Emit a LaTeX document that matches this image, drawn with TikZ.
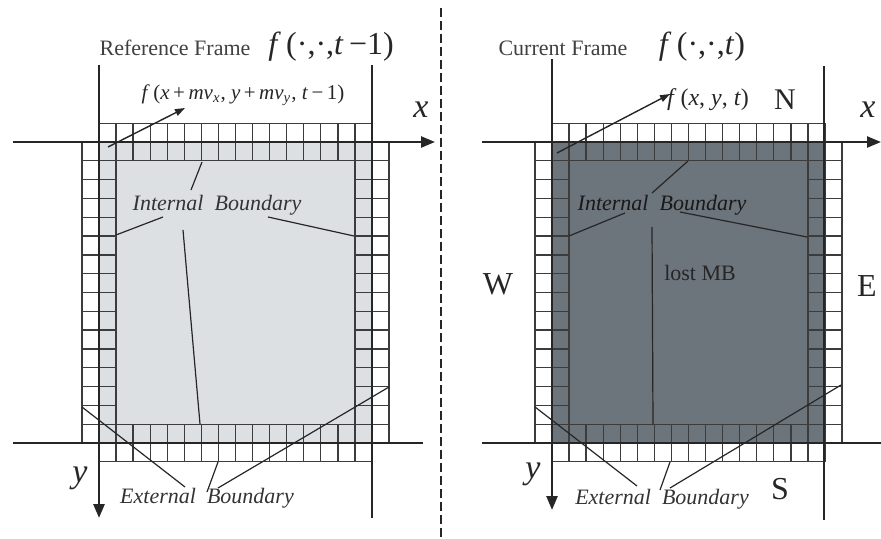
\documentclass[tikz,border=0pt]{standalone}
\usepackage{fontspec}
\setmainfont{Liberation Serif}
\usetikzlibrary{arrows.meta,positioning}
\definecolor{lightfill}{HTML}{DDE0E3}
\definecolor{darkfill}{HTML}{6C747C}
\definecolor{cellgray}{HTML}{3C3C3C}
\definecolor{titlegray}{HTML}{404040}
\definecolor{notegray}{HTML}{333333}

% one 16x16 block of macroblocks with its internal and external boundary cells
\newcommand\mbblock[1]{%
  \fill[#1] (99,142) rectangle (372,443);
  \foreach \k in {0,...,15}{
    \draw[cellline] ({99+\k*17.0625},142) rectangle ++(17.0625,-18.8125);
    \draw[cellline] ({99+\k*17.0625},142) rectangle ++(17.0625,18.8125);
    \draw[cellline] ({99+\k*17.0625},443) rectangle ++(17.0625,-18.8125);
    \draw[cellline] ({99+\k*17.0625},443) rectangle ++(17.0625,18.8125);
    \draw[cellline] (99,{142+\k*18.8125}) rectangle ++(-17.0625,18.8125);
    \draw[cellline] (99,{142+\k*18.8125}) rectangle ++(17.0625,18.8125);
    \draw[cellline] (372,{142+\k*18.8125}) rectangle ++(-17.0625,18.8125);
    \draw[cellline] (372,{142+\k*18.8125}) rectangle ++(17.0625,18.8125);
  }%
}

\begin{document}
\begin{tikzpicture}[x=0.5pt,y=-0.5pt,
  frameline/.style={line width=1.3pt,black!85},
  axisline/.style={line width=1.2pt,black!85},
  cellline/.style={line width=0.65pt,cellgray},
  leader/.style={line width=0.6pt,black!85},
  axistip/.style={-{Triangle[length=7pt,width=5.5pt]}},
  pointer/.style={line width=0.7pt,black!85,-{Triangle[length=5pt,width=3.5pt]}},
  title/.style={font=\fontsize{11}{13}\selectfont,text=titlegray,inner sep=0pt},
  funclabel/.style={font=\fontsize{16}{18}\selectfont,text=black!85,inner sep=0pt},
  smallfunc/.style={font=\fontsize{10.5}{13}\selectfont,text=black!85,inner sep=0pt},
  note/.style={font=\fontsize{11}{13}\selectfont\itshape,text=notegray,inner sep=0pt},
  compass/.style={font=\fontsize{16}{18}\selectfont,text=black!85,inner sep=0pt},
  axislabel/.style={font=\fontsize{17}{19}\selectfont\itshape,text=black!85,inner sep=0pt}]
  \useasboundingbox (0,0) rectangle (881,539);

  % blocks
  \mbblock{lightfill}
  \begin{scope}[shift={(453,0)}]
    \mbblock{darkfill}
  \end{scope}

  % reference frame lines and axes
  \coordinate (refxs) at (13,142);
  \coordinate (refxe) at (435,142);
  \coordinate (refbs) at (13,443);
  \coordinate (refbe) at (423,443);
  \coordinate (refls) at (99,65);
  \coordinate (refle) at (99,518);
  \coordinate (refrs) at (372,65);
  \coordinate (refre) at (372,518);
  \draw[axisline,axistip] (refxs) -- (refxe);
  \draw[axisline] (refbs) -- (refbe);
  \draw[frameline,axistip] (refls) -- (refle);
  \draw[frameline] (refrs) -- (refre);

  % current frame lines and axes
  \coordinate (curxs) at (482,142);
  \coordinate (curxe) at (881,142);
  \coordinate (curbs) at (482,443);
  \coordinate (curbe) at (881,443);
  \coordinate (curls) at (552,59);
  \coordinate (curle) at (552,510);
  \coordinate (currs) at (824,66);
  \coordinate (curre) at (824,520);
  \draw[axisline,axistip] (curxs) -- (curxe);
  \draw[axisline] (curbs) -- (curbe);
  \draw[frameline,axistip] (curls) -- (curle);
  \draw[frameline] (currs) -- (curre);

  % separator
  \coordinate (septop) at (441,8);
  \coordinate (sepbot) at (441,539);
  \draw[line width=1.2pt,black!85,dash pattern=on 4.5pt off 2pt] (septop) -- (sepbot);

  % reference frame labels
  \node[title] (reftitle) at (175,48) {Reference Frame};
  \node[funclabel] (reffunc) at (331,47) {\textit{f}\,(·,·,\textit{t}\,−1)};
  \node[smallfunc] (refmv) at (243,95) {\textit{f}\,(\textit{x}\,+\,\textit{mv}\textsubscript{\textit{x}}, \textit{y}\,+\,\textit{mv}\textsubscript{\textit{y}}, \textit{t}\,−\,1)};
  \node[axislabel] (refx) at (421,110) {x};
  \node[axislabel] (refy) at (80,478) {y};
  \node[note] (refib) at (217,205) {Internal\ \ Boundary};
  \node[note] (refeb) at (207,498) {External\ \ Boundary};

  \coordinate (refmvs) at (108,147);
  \coordinate (refmve) at (185,108);
  \draw[pointer] (refmvs) -- (refmve);

  \coordinate (refibt) at (202,162);
  \coordinate (refibta) at (191,190);
  \coordinate (refibl) at (116,235);
  \coordinate (refibla) at (163,217);
  \coordinate (refibr) at (354,236);
  \coordinate (refibra) at (268,217);
  \coordinate (refibb) at (200,424);
  \coordinate (refibba) at (183,230);
  \draw[leader] (refibta) -- (refibt);
  \draw[leader] (refibla) -- (refibl);
  \draw[leader] (refibra) -- (refibr);
  \draw[leader] (refibba) -- (refibb);

  \coordinate (refebl) at (82,407);
  \coordinate (refebla) at (185,487);
  \coordinate (refebm) at (218,462);
  \coordinate (refebma) at (207,492);
  \coordinate (refebr) at (389,387);
  \coordinate (refebra) at (218,488);
  \draw[leader] (refebla) -- (refebl);
  \draw[leader] (refebma) -- (refebm);
  \draw[leader] (refebra) -- (refebr);

  % current frame labels
  \node[title] (curtitle) at (563,48) {Current Frame};
  \node[funclabel] (curfunc) at (702,47) {\textit{f}\,(·,·,\textit{t})};
  \node[smallfunc,font=\fontsize{12}{14}\selectfont] (curfxy) at (708,100) {\textit{f}\,(\textit{x}, \textit{y}, \textit{t})};
  \node[compass,font=\fontsize{15}{17}\selectfont] (north) at (785,100) {N};
  \node[compass] (west) at (498,284) {W};
  \node[compass] (east) at (867,286) {E};
  \node[compass] (south) at (780,489) {S};
  \node[axislabel] (curx) at (868,110) {x};
  \node[axislabel] (cury) at (533,474) {y};
  \node[font=\fontsize{11}{13}\selectfont,text=black!85,inner sep=0pt] (lostmb) at (700,273) {lost MB};
  \node[note,text=black!90] (curib) at (662,205) {Internal\ \ Boundary};
  \node[note] (cureb) at (662,499) {External\ \ Boundary};

  \coordinate (curfxys) at (557,153);
  \coordinate (curfxye) at (670,94);
  \draw[pointer] (curfxys) -- (curfxye);

  \coordinate (curibt) at (688,161);
  \coordinate (curibta) at (652,193);
  \coordinate (curibl) at (569,236);
  \coordinate (curibla) at (625,213);
  \coordinate (curibr) at (807,237);
  \coordinate (curibra) at (680,212);
  \coordinate (curibb) at (653,424);
  \coordinate (curibba) at (652,227);
  \draw[leader] (curibta) -- (curibt);
  \draw[leader] (curibla) -- (curibl);
  \draw[leader] (curibra) -- (curibr);
  \draw[leader] (curibba) -- (curibb);

  \coordinate (curebl) at (535,407);
  \coordinate (curebla) at (637,486);
  \coordinate (curebm) at (670,462);
  \coordinate (curebma) at (660,490);
  \coordinate (curebr) at (841,385);
  \coordinate (curebra) at (670,488);
  \draw[leader] (curebla) -- (curebl);
  \draw[leader] (curebma) -- (curebm);
  \draw[leader] (curebra) -- (curebr);
\end{tikzpicture}
\end{document}
